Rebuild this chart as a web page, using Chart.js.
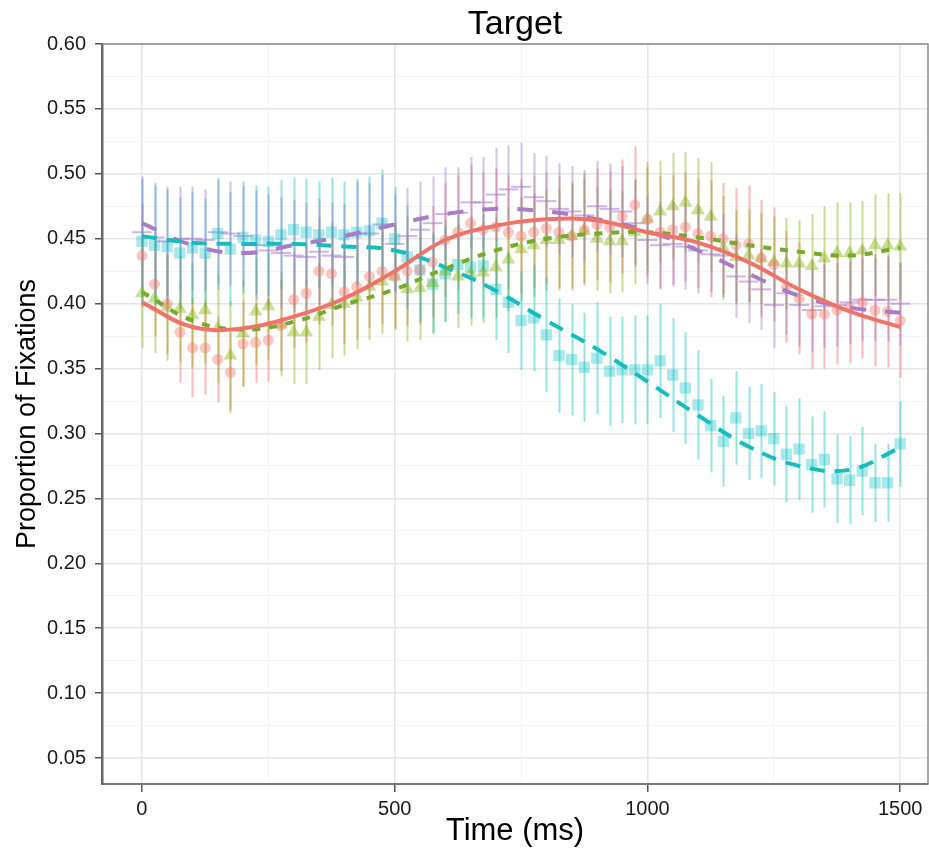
<!DOCTYPE html>
<html><head><meta charset="utf-8">
<script src="https://cdn.jsdelivr.net/npm/chart.js@4.4.1/dist/chart.umd.min.js"></script>
<style>html,body{margin:0;padding:0;background:#fff;}</style>
</head><body>
<canvas id="c" width="929" height="855"></canvas>
<script>
// ---------- data ----------
const times = [0,25,50,75,100,125,150,175,200,225,250,275,300,325,350,375,400,425,450,475,500,525,550,575,600,625,650,675,700,725,750,775,800,825,850,875,900,925,950,975,1000,1025,1050,1075,1100,1125,1150,1175,1200,1225,1250,1275,1300,1325,1350,1375,1400,1425,1450,1475,1500];
const fitTimes = [0,100,200,300,400,500,600,700,800,900,1000,1100,1200,1300,1400,1500];

const redValues = [0.437,0.415,0.400,0.378,0.366,0.366,0.357,0.347,0.369,0.370,
  0.372,0.383,0.403,0.408,0.425,0.423,0.409,0.413,0.421,0.425,
  0.421,0.425,0.426,0.432,0.449,0.455,0.462,0.457,0.459,0.455,
  0.452,0.455,0.458,0.455,0.452,0.457,0.461,0.459,0.467,0.476,
  0.465,0.455,0.457,0.459,0.454,0.452,0.450,0.445,0.446,0.435,
  0.430,0.413,0.404,0.392,0.392,0.395,0.397,0.401,0.395,0.394,0.387];
const greenValues = [0.408,0.404,0.397,0.396,0.391,0.395,0.381,0.360,0.377,0.394,
  0.398,0.384,0.378,0.378,0.390,0.399,0.400,0.405,0.413,0.417,
  0.421,0.411,0.412,0.416,0.425,0.421,0.423,0.424,0.428,0.434,
  0.442,0.445,0.449,0.449,0.452,0.456,0.450,0.448,0.448,0.455,
  0.465,0.471,0.475,0.478,0.472,0.467,0.443,0.436,0.437,0.435,
  0.432,0.431,0.431,0.429,0.435,0.439,0.439,0.441,0.445,0.445,0.444];
const cyanValues = [0.448,0.445,0.444,0.439,0.443,0.439,0.454,0.442,0.451,0.449,
  0.448,0.453,0.457,0.455,0.453,0.455,0.453,0.455,0.456,0.462,
  0.450,0.436,0.426,0.415,0.423,0.430,0.428,0.429,0.411,0.401,
  0.387,0.389,0.376,0.360,0.357,0.351,0.358,0.348,0.349,0.349,
  0.349,0.356,0.345,0.335,0.322,0.306,0.294,0.312,0.300,0.302,
  0.296,0.284,0.288,0.276,0.280,0.265,0.264,0.271,0.262,0.262,0.292];
const purpleValues = [0.455,0.451,0.448,0.450,0.450,0.449,0.455,0.454,0.452,0.445,
  0.441,0.439,0.437,0.436,0.440,0.437,0.436,0.454,0.454,0.461,
  0.446,0.452,0.457,0.462,0.469,0.470,0.478,0.478,0.484,0.488,
  0.490,0.482,0.479,0.473,0.471,0.468,0.475,0.473,0.471,0.462,
  0.449,0.445,0.446,0.444,0.441,0.438,0.437,0.421,0.417,0.411,
  0.399,0.408,0.399,0.395,0.398,0.399,0.401,0.403,0.403,0.403,0.400];

const redErr = [0.040,0.040,0.039,0.039,0.038,0.036,0.033,0.031,0.033,0.031,
  0.032,0.035,0.037,0.038,0.041,0.040,0.040,0.041,0.040,0.041,
  0.041,0.042,0.042,0.043,0.044,0.044,0.045,0.044,0.045,0.044,
  0.044,0.043,0.043,0.043,0.042,0.043,0.043,0.043,0.044,0.045,
  0.044,0.043,0.042,0.042,0.042,0.043,0.043,0.044,0.045,0.045,
  0.044,0.043,0.043,0.042,0.042,0.042,0.043,0.043,0.043,0.043,0.044];
const greenErr = [0.042,0.042,0.041,0.041,0.040,0.041,0.042,0.042,0.041,0.041,
  0.041,0.040,0.040,0.040,0.041,0.041,0.040,0.040,0.041,0.040,
  0.040,0.040,0.040,0.039,0.039,0.040,0.040,0.039,0.039,0.040,
  0.040,0.040,0.039,0.039,0.040,0.040,0.040,0.040,0.039,0.040,
  0.040,0.039,0.041,0.039,0.040,0.042,0.040,0.036,0.036,0.035,
  0.035,0.035,0.033,0.040,0.040,0.039,0.039,0.038,0.039,0.040,0.041];
const cyanErr = [0.048,0.046,0.044,0.043,0.043,0.042,0.043,0.044,0.043,0.042,
  0.042,0.042,0.040,0.041,0.041,0.042,0.041,0.041,0.042,0.041,
  0.040,0.040,0.040,0.038,0.037,0.038,0.039,0.040,0.039,0.039,
  0.038,0.041,0.044,0.044,0.043,0.042,0.043,0.042,0.041,0.042,
  0.042,0.044,0.044,0.043,0.042,0.036,0.035,0.036,0.036,0.036,
  0.036,0.037,0.039,0.037,0.037,0.034,0.034,0.034,0.030,0.030,0.033];
const purpleErr = [0.043,0.042,0.042,0.040,0.040,0.039,0.040,0.040,0.039,0.042,
  0.043,0.043,0.043,0.042,0.041,0.041,0.041,0.040,0.039,0.038,
  0.038,0.037,0.037,0.036,0.036,0.035,0.035,0.035,0.036,0.034,
  0.034,0.034,0.035,0.035,0.035,0.035,0.035,0.035,0.035,0.034,
  0.034,0.034,0.033,0.033,0.033,0.033,0.032,0.032,0.032,0.031,
  0.033,0.032,0.032,0.032,0.032,0.032,0.032,0.032,0.032,0.032,0.032];

const redFit = [0.401,0.382,0.381,0.390,0.404,0.425,0.449,0.460,0.465,0.464,0.455,0.447,0.432,0.411,0.394,0.382];
const greenFit = [0.409,0.387,0.380,0.386,0.399,0.411,0.427,0.441,0.450,0.454,0.455,0.451,0.445,0.440,0.437,0.443];
const cyanFit = [0.452,0.447,0.446,0.446,0.444,0.441,0.428,0.410,0.387,0.365,0.340,0.314,0.290,0.275,0.272,0.289];
const purpleFit = [0.462,0.445,0.439,0.445,0.452,0.461,0.469,0.473,0.471,0.465,0.456,0.441,0.423,0.406,0.397,0.393];

const xMajorTicks = [0,500,1000,1500];
const xMinorTicks = [250,750,1250];
const yMajorTicks = [0.05,0.10,0.15,0.20,0.25,0.30,0.35,0.40,0.45,0.50,0.55,0.60];
const yMinorTicks = [0.075,0.125,0.175,0.225,0.275,0.325,0.375,0.425,0.475,0.525,0.575];

const titleText = 'Target';
const xTitle = 'Time (ms)';
const yTitle = 'Proportion of Fixations';

// ---------- helpers ----------
const FONT = "'Liberation Sans', Arial, sans-serif";
const pts = (xs, ys) => ys.map((v, i) => ({x: xs[i], y: v}));
const isIn = (arr, v) => arr.some(m => Math.abs(m - v) < 1e-9);

const series = [
  {values: redValues, err: redErr, errColor: 'rgba(248,118,109,0.5)'},
  {values: greenValues, err: greenErr, errColor: 'rgba(124,174,0,0.42)'},
  {values: cyanValues, err: cyanErr, errColor: 'rgba(0,191,196,0.42)'},
  {values: purpleValues, err: purpleErr, errColor: 'rgba(150,120,205,0.45)'}
];

const errorBars = {
  id: 'errorBars',
  beforeDatasetsDraw(chart) {
    const {ctx, chartArea: a, scales: {x, y}} = chart;
    ctx.save();
    ctx.strokeStyle = '#8a8a8a';
    ctx.lineWidth = 1.5;
    ctx.beginPath();
    ctx.moveTo(a.left, a.top); ctx.lineTo(a.right, a.top); ctx.lineTo(a.right, a.bottom);
    ctx.stroke();
    ctx.beginPath();
    ctx.rect(a.left, a.top, a.right - a.left, a.bottom - a.top);
    ctx.clip();
    ctx.lineWidth = 2;
    series.forEach(s => {
      ctx.strokeStyle = s.errColor;
      s.values.forEach((v, i) => {
        const px = Math.round(x.getPixelForValue(times[i])) + 0.5;
        ctx.beginPath();
        ctx.moveTo(px, y.getPixelForValue(v - s.err[i]));
        ctx.lineTo(px, y.getPixelForValue(v + s.err[i]));
        ctx.stroke();
      });
    });
    ctx.restore();
  }
};

function isMajor(c) {
  const v = c.tick ? c.tick.value : null;
  if (v === null) return true;
  return c.scale.axis === 'x' ? isIn(xMajorTicks, v) : isIn(yMajorTicks, v);
}
const gridColor = c => isMajor(c) ? '#e6e6e6' : '#f4f4f4';
const noPad = s => { s.paddingLeft = 0; s.paddingRight = 0; s.paddingTop = 0; s.paddingBottom = 0; };

new Chart(document.getElementById('c'), {
  type: 'scatter',
  data: {
    datasets: [
      {data: pts(fitTimes, redFit), showLine: true, tension: 0.4, pointRadius: 0, borderColor: '#F0736A', borderWidth: 4, order: 0},
      {data: pts(fitTimes, greenFit), showLine: true, tension: 0.4, pointRadius: 0, borderColor: '#76AA2A', borderWidth: 4, borderDash: [8, 9], order: 0},
      {data: pts(fitTimes, cyanFit), showLine: true, tension: 0.4, pointRadius: 0, borderColor: '#17BCC0', borderWidth: 4, borderDash: [15, 10], order: 0},
      {data: pts(fitTimes, purpleFit), showLine: true, tension: 0.4, pointRadius: 0, borderColor: '#A87CC8', borderWidth: 4, borderDash: [16, 19], order: 0},
      {data: pts(times, redValues), pointStyle: 'circle', pointRadius: 5.5, backgroundColor: 'rgba(248,118,109,0.42)', borderWidth: 0, order: 1},
      {data: pts(times, greenValues), pointStyle: 'triangle', pointRadius: 8, backgroundColor: 'rgba(124,174,0,0.4)', borderWidth: 0, order: 1},
      {data: pts(times, cyanValues), pointStyle: 'rect', pointRadius: 8, backgroundColor: 'rgba(0,191,196,0.34)', borderWidth: 0, order: 1},
      {data: pts(times, purpleValues), pointStyle: 'line', pointRadius: 10, borderColor: 'rgba(170,120,210,0.55)', borderWidth: 2, order: 1}
    ]
  },
  plugins: [errorBars],
  options: {
    responsive: false,
    animation: false,
    devicePixelRatio: 1,
    layout: {autoPadding: false, padding: {left: 0, right: 1, top: 0, bottom: 0}},
    plugins: {
      legend: {display: false},
      tooltip: {enabled: false},
      title: {display: true, text: titleText, fullSize: false, color: '#000',
        font: {family: FONT, size: 34, weight: 'normal', lineHeight: 1}, padding: {top: 8, bottom: 2}}
    },
    scales: {
      x: {
        type: 'linear', min: -79, max: 1555,
        afterBuildTicks: s => { s.ticks = xMajorTicks.concat(xMinorTicks).sort((a, b) => a - b).map(v => ({value: v})); },
        afterFit: s => { s.height = 71; noPad(s); },
        ticks: {autoSkip: false, maxRotation: 0, padding: 5, color: '#1a1a1a', font: {family: FONT, size: 20},
          callback: v => isIn(xMajorTicks, v) ? String(v) : ''},
        grid: {color: gridColor, lineWidth: c => isMajor(c) ? 1.5 : 1, tickColor: c => isMajor(c) ? '#555' : 'rgba(0,0,0,0)', tickLength: 8, tickWidth: 1.5},
        border: {display: true, color: '#777', width: 2},
        title: {display: true, text: xTitle, color: '#000', font: {family: FONT, size: 31, lineHeight: 1}, padding: {top: 0, bottom: 8}}
      },
      y: {
        type: 'linear', min: 0.03, max: 0.60,
        afterBuildTicks: s => { s.ticks = yMajorTicks.concat(yMinorTicks).sort((a, b) => a - b).map(v => ({value: v})); },
        afterFit: s => { s.width = 102; noPad(s); },
        ticks: {autoSkip: false, padding: 9, color: '#1a1a1a', font: {family: FONT, size: 20},
          callback: v => isIn(yMajorTicks, v) ? v.toFixed(2) : ''},
        grid: {color: gridColor, lineWidth: c => isMajor(c) ? 1.5 : 1, tickColor: c => isMajor(c) ? '#555' : 'rgba(0,0,0,0)', tickLength: 7, tickWidth: 1.5},
        border: {display: true, color: '#666', width: 2.5},
        title: {display: true, text: yTitle, color: '#000', font: {family: FONT, size: 27, lineHeight: 1}, padding: {top: 14, bottom: 0}}
      }
    }
  }
});
</script>
</body></html>
